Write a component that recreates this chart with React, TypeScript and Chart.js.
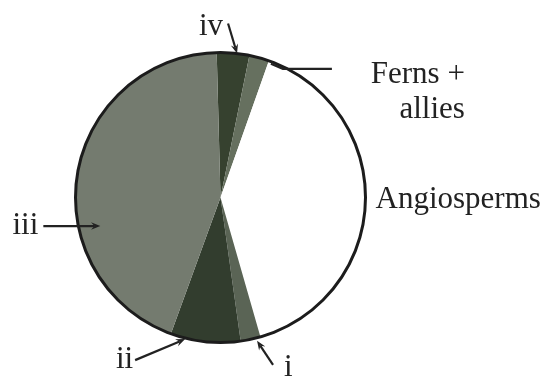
import React, { useEffect, useRef } from 'react';
import { Chart, registerables } from 'chart.js';

Chart.register(...registerables);

// ---- data (degrees of the circle) ----
const categories = ['iv', 'Ferns + allies', 'Angiosperms', 'i', 'ii', 'iii'];
const sliceDegrees = [13, 8, 144.5, 8, 28, 158.5];
const sliceColors = ['#36412f', '#66705f', '#ffffff', '#5a6455', '#323d2e', '#747b6f'];
const startRotation = -1.5;

const FONT = '31px "Liberation Serif", "Times New Roman", serif';
const INK = '#222222';

function arrow(ctx: CanvasRenderingContext2D, x1: number, y1: number, x2: number, y2: number, head = 10) {
  const ang = Math.atan2(y2 - y1, x2 - x1);
  ctx.beginPath();
  ctx.moveTo(x1, y1);
  ctx.lineTo(x2 - Math.cos(ang) * head * 0.6, y2 - Math.sin(ang) * head * 0.6);
  ctx.stroke();
  ctx.beginPath();
  ctx.moveTo(x2, y2);
  ctx.lineTo(x2 - head * Math.cos(ang - 0.38), y2 - head * Math.sin(ang - 0.38));
  ctx.lineTo(x2 - head * 0.6 * Math.cos(ang), y2 - head * 0.6 * Math.sin(ang));
  ctx.lineTo(x2 - head * Math.cos(ang + 0.38), y2 - head * Math.sin(ang + 0.38));
  ctx.closePath();
  ctx.fill();
}

const annotate = {
  id: 'annotate',
  afterDatasetsDraw(chart: any) {
    const meta = chart.getDatasetMeta(0);
    const first = meta.data[0];
    if (!first) return;
    const { x: cx, y: cy, outerRadius: r } = first.getProps(['x', 'y', 'outerRadius'], true);
    const ctx: CanvasRenderingContext2D = chart.ctx;
    ctx.save();
    // outer rim
    ctx.strokeStyle = '#1c1c1c';
    ctx.lineWidth = 3;
    ctx.beginPath();
    ctx.arc(cx, cy, r, 0, Math.PI * 2);
    ctx.stroke();

    const pt = (i: number, f: number) => {
      const a = meta.data[i];
      const ang = a.startAngle + (a.endAngle - a.startAngle) * f;
      return [cx + r * Math.cos(ang), cy + r * Math.sin(ang)];
    };

    ctx.strokeStyle = INK;
    ctx.fillStyle = INK;
    ctx.lineWidth = 2.2;
    ctx.font = FONT;
    ctx.textBaseline = 'alphabetic';

    // iv
    {
      const [x, y] = pt(0, 0.62);
      arrow(ctx, x - 9, y - 30, x, y);
      ctx.textAlign = 'right';
      ctx.fillText(categories[0], x - 14, y - 18);
    }
    // Ferns + allies
    {
      const [x, y] = pt(1, 1);
      ctx.beginPath();
      ctx.moveTo(x + 2, y + 3);
      ctx.lineTo(x + 14, y + 8);
      ctx.lineTo(x + 63, y + 8);
      ctx.stroke();
      ctx.textAlign = 'right';
      ctx.fillText('Ferns +', x + 196, y + 22);
      ctx.fillText('allies', x + 196, y + 57);
    }
    // Angiosperms
    {
      ctx.textAlign = 'left';
      ctx.fillText(categories[2], cx + r + 10, cy + 10);
    }
    // i
    {
      const [x, y] = pt(3, 0.175);
      arrow(ctx, x + 16, y + 27, x, y + 3);
      ctx.textAlign = 'left';
      ctx.fillText(categories[3], x + 27, y + 38);
    }
    // ii
    {
      const [x, y] = pt(4, 0.79);
      arrow(ctx, x - 50, y + 22, x, y + 1);
      ctx.textAlign = 'right';
      ctx.fillText(categories[4], x - 52, y + 30);
    }
    // iii
    {
      const [x, y] = pt(5, 0.37);
      arrow(ctx, x - 35, y, x + 22, y);
      ctx.textAlign = 'right';
      ctx.fillText(categories[5], x - 40, y + 8);
    }
    ctx.restore();
  },
};

export default function App() {
  const ref = useRef<HTMLCanvasElement>(null);
  useEffect(() => {
    if (!ref.current) return;
    const chart = new Chart(ref.current, {
      type: 'pie',
      data: {
        labels: categories,
        datasets: [
          {
            data: sliceDegrees,
            backgroundColor: sliceColors,
            borderWidth: 0,
          },
        ],
      },
      options: {
        responsive: false,
        devicePixelRatio: 1,
        animation: false,
        events: [],
        rotation: startRotation,
        layout: { padding: { left: 75.5, top: 52.5, right: 177.5, bottom: 33.5 } },
        plugins: {
          legend: { display: false },
          tooltip: { enabled: false },
        },
      },
      plugins: [annotate],
    });
    return () => chart.destroy();
  }, []);
  return (
    <div style={{ position: 'fixed', left: 0, top: 0, width: 543, height: 376, background: '#ffffff' }}>
      <canvas ref={ref} width={543} height={376} style={{ display: 'block' }} />
    </div>
  );
}
